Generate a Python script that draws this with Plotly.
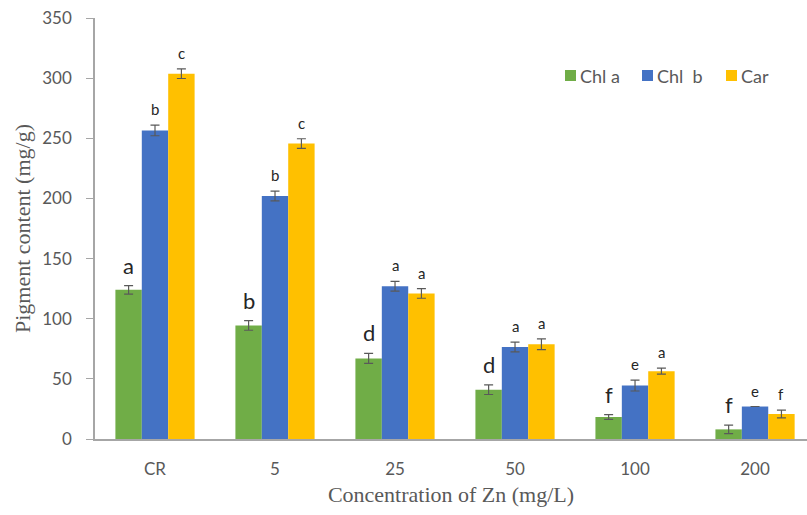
import plotly.graph_objects as go

categories = ["CR", "5", "25", "50", "100", "200"]
series_names = ["Chl a", "Chl  b", "Car"]
chl_a = [124, 94.4, 67, 41, 18.3, 8]
chl_b = [256.5, 202, 127, 76.5, 44.4, 27]
car = [303.7, 245.6, 121, 78.8, 56.4, 20.8]
chl_a_err = [3.5, 4, 4.2, 4, 2, 3.5]
chl_b_err = [4.4, 4, 4, 4, 4.5, 0]
car_err = [4, 4, 4, 4.5, 2.5, 3.2]
chl_a_letters = ["a", "b", "d", "d", "f", "f"]
chl_b_letters = ["b", "b", "a", "a", "e", "e"]
car_letters = ["c", "c", "a", "a", "a", "f"]
y_ticks = [0, 50, 100, 150, 200, 250, 300, 350]

colors = ["#70AD47", "#4472C4", "#FFC000"]
values = [chl_a, chl_b, car]
errors = [chl_a_err, chl_b_err, car_err]
letters = [chl_a_letters, chl_b_letters, car_letters]
letter_sizes = [22, 15, 15]

gray = "#595959"
sans = "Lato, Open Sans, sans-serif"
serif = "Liberation Serif, Times New Roman, serif"

fig = go.Figure()
for name, vals, errs, col in zip(series_names, values, errors, colors):
    fig.add_trace(go.Bar(
        name=name, x=categories, y=vals, marker=dict(color=col, line=dict(width=0)),
        error_y=dict(type="data", array=errs, visible=True, color=gray,
                     thickness=1.2, width=4.5),
        showlegend=False,
    ))

# significance letters above each bar's error bar
bar_w = 0.22
for k in range(3):
    offset = (k - 1) * bar_w
    for i, cat in enumerate(categories):
        fig.add_annotation(
            x=i + offset, y=values[k][i] + errors[k][i], xref="x", yref="y",
            text=letters[k][i], showarrow=False, yanchor="bottom", yshift=5,
            font=dict(family=sans, size=letter_sizes[k], color="#262626"),
        )

# compact legend: coloured square followed by its label
legend_x = [565, 642, 726]
legend_y = 76
for name, col, lx in zip(series_names, colors, legend_x):
    fig.add_shape(type="rect", xref="paper", yref="paper",
                  x0=(lx - 95) / 712, x1=(lx + 11 - 95) / 712,
                  y0=(439 - legend_y - 5) / 421, y1=(439 - legend_y + 6) / 421,
                  fillcolor=col, line=dict(width=0))
    fig.add_annotation(xref="paper", yref="paper",
                       x=(lx + 13 - 95) / 712, y=(439 - legend_y) / 421,
                       text=name.replace("  ", "&nbsp;&nbsp;"), showarrow=False,
                       xanchor="left", yanchor="middle",
                       font=dict(family=sans, size=18, color=gray))

fig.update_layout(
    width=807, height=515,
    margin=dict(l=95, r=0, t=18, b=76),
    plot_bgcolor="white", paper_bgcolor="white",
    barmode="group", bargap=0.34, bargroupgap=0,
    showlegend=False,
    font=dict(family=sans, color=gray),
)
fig.update_xaxes(
    type="category", range=[-0.5, 5.433], showline=True, linecolor="#A6A6A6", linewidth=1.5,
    ticks="", showgrid=False, tickfont=dict(size=17, color=gray), ticklabelstandoff=14,
    title=dict(text="Concentration of Zn (mg/L)", standoff=8,
               font=dict(family=serif, size=22, color=gray)),
)
fig.update_yaxes(
    range=[0, 350], tickvals=y_ticks, showline=True, linecolor="#A6A6A6", linewidth=1.5,
    ticks="outside", ticklen=7, tickcolor="#A6A6A6", showgrid=False, zeroline=False,
    tickfont=dict(size=17, color=gray), ticklabelstandoff=11,
    title=dict(text="Pigment content (mg/g)", standoff=6,
               font=dict(family=serif, size=22, color=gray)),
)

fig.write_html("out.html")
